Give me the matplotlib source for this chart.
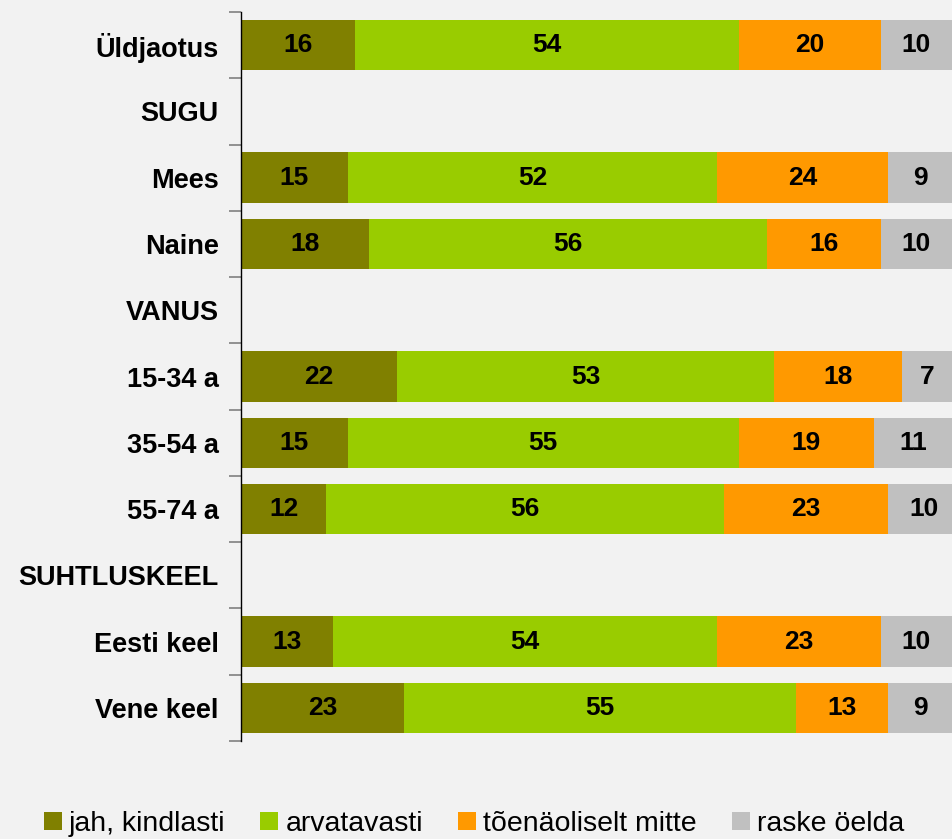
import matplotlib.pyplot as plt
from matplotlib.patches import Patch

categories = ['Üldjaotus', 'SUGU', 'Mees', 'Naine', 'VANUS', '15-34 a', '35-54 a',
              '55-74 a', 'SUHTLUSKEEL', 'Eesti keel', 'Vene keel']
jah = [16, None, 15, 18, None, 22, 15, 12, None, 13, 23]
arvatavasti = [54, None, 52, 56, None, 53, 55, 56, None, 54, 55]
mitte = [20, None, 24, 16, None, 18, 19, 23, None, 23, 13]
raske = [10, None, 9, 10, None, 7, 11, 10, None, 10, 9]

series = [('jah, kindlasti', jah, '#808000'),
          ('arvatavasti', arvatavasti, '#99CC00'),
          ('tõenäoliselt mitte', mitte, '#FF9900'),
          ('raske öelda', raske, '#C0C0C0')]

plt.rcParams['font.family'] = ['Liberation Sans', 'DejaVu Sans']
bg = '#F2F2F2'
fig = plt.figure(figsize=(9.52, 8.39), dpi=100, facecolor=bg)
ax = fig.add_axes([0.253, 0.1168, 0.747, 0.8689], facecolor=bg)

ypos = list(range(len(categories)))
left = [0] * len(categories)
for name, vals, col in series:
    for i, v in enumerate(vals):
        if v is None:
            continue
        ax.barh(i, v, left=left[i], height=0.76, color=col, edgecolor='none')
        ax.text(left[i] + v / 2, i, str(v), ha='center', va='center',
                fontsize=19, fontweight='bold', color='black')
        left[i] += v

ax.set_xlim(0, 100)
ax.set_ylim(len(categories) - 0.5, -0.5)
ax.set_yticks(ypos)
ax.set_yticklabels(categories, fontsize=19.5, fontweight='bold')
ax.tick_params(axis='y', which='major', length=0, pad=16)
ax.set_yticks([i - 0.5 for i in range(len(categories) + 1)], minor=True)
ax.tick_params(axis='y', which='minor', length=9, color='#808080', width=1.2)
ax.set_xticks([])
for s in ['top', 'right', 'bottom']:
    ax.spines[s].set_visible(False)
ax.spines['left'].set_color('black')
ax.spines['left'].set_linewidth(1)

handles = [Patch(facecolor=col, edgecolor='none', label=name) for name, vals, col in series]
leg = fig.legend(handles=handles, loc='lower left', bbox_to_anchor=(0.046, 0.002), ncol=4,
                 frameon=False, fontsize=20.5, handlelength=0.63, handleheight=0.6,
                 handletextpad=0.25, columnspacing=1.23, borderpad=0, borderaxespad=0)

fig.savefig('out.png', dpi=100, facecolor=bg)
